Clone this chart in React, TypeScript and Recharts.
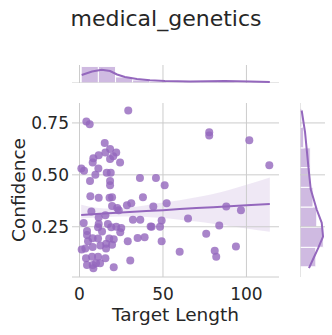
import React from 'react';
import {
  ComposedChart,
  XAxis,
  YAxis,
  Area,
  Line,
  Scatter,
  ReferenceArea,
  ReferenceLine,
} from 'recharts';

const PURPLE = '#9467bd';
const GRID = '#cccccc';
const TEXT = '#262626';
const FONT = "'DejaVu Sans', sans-serif";

const title = 'medical_genetics';
const xLabel = 'Target Length';
const yLabel = 'Confidence';

const xTicks = [0, 50, 100];
const yTicks = [0.25, 0.5, 0.75];
const xDomain: [number, number] = [-4.5, 119.5];
const yDomain: [number, number] = [0.008, 0.846];

// scatter data
const targetLength = [
  29.2, 4.1, 6.1, 15.1, 18.3, 22.0, 15.5, 11.5, 20.2, 8.3, 18.3, 7.9, 24.3, 1.1, 2.7, 11.3, 16.3, 18.7, 9.5, 36.2,
  6.3, 18.3, 18.3, 45.8, 51.0, 6.5, 11.5, 18.0, 19.5, 38.0, 31.0, 19.5, 23.5, 28.4, 7.1, 15.5, 11.5, 32.0, 36.4, 42.6,
  2.5, 11.5, 17.0, 11.1, 19.0, 25.0, 24.4, 4.5, 4.5, 5.1, 3.5, 7.9, 11.1, 12.5, 16.0, 17.8, 19.5, 20.5, 15.9, 28.9,
  34.8, 39.0, 7.5, 3.9, 11.1, 15.5, 4.5, 7.9, 9.9, 20.5, 30.4, 44.2, 52.2, 49.2, 43.2, 48.2, 65.0, 87.9, 96.7, 83.7,
  75.9, 49.2, 60.0, 81.0, 81.9, 93.7, 77.7, 77.7, 101.7, 113.7, 22.6, 1.3, 8.3, 12.3, 13.5, 7.8, 22.0,
];
const confidence = [
  0.81, 0.757, 0.744, 0.653, 0.624, 0.608, 0.608, 0.594, 0.59, 0.58, 0.576, 0.56, 0.56, 0.53, 0.52, 0.53, 0.51, 0.51, 0.5, 0.485,
  0.47, 0.47, 0.45, 0.485, 0.45, 0.397, 0.39, 0.39, 0.392, 0.392, 0.363, 0.35, 0.33, 0.353, 0.324, 0.305, 0.295, 0.284, 0.284, 0.251,
  0.268, 0.263, 0.263, 0.247, 0.247, 0.244, 0.223, 0.23, 0.21, 0.18, 0.145, 0.153, 0.194, 0.16, 0.168, 0.194, 0.163, 0.19, 0.145, 0.18,
  0.196, 0.2, 0.106, 0.098, 0.106, 0.098, 0.066, 0.066, 0.074, 0.055, 0.088, 0.347, 0.363, 0.28, 0.25, 0.25, 0.29, 0.347, 0.33, 0.256,
  0.216, 0.18, 0.13, 0.135, 0.105, 0.155, 0.705, 0.69, 0.666, 0.546, 0.34, 0.14, 0.05, 0.074, 0.227, 0.195, 0.25,
];

// regression line and confidence band
const fitX = [1, 10, 20, 30, 40, 50, 60, 70, 80, 90, 100, 114];
const fitY = [0.307, 0.312, 0.316, 0.321, 0.326, 0.33, 0.335, 0.34, 0.344, 0.349, 0.354, 0.36];
const ciLow = [0.29, 0.295, 0.298, 0.299, 0.297, 0.292, 0.284, 0.275, 0.265, 0.254, 0.242, 0.226];
const ciHigh = [0.356, 0.342, 0.337, 0.343, 0.354, 0.367, 0.378, 0.392, 0.408, 0.428, 0.452, 0.487];

// top marginal histogram (counts) and kde
const xHistEdges = [1, 11.3, 21.6, 31.8, 42, 52.2, 62.4, 72.6, 82.8, 93, 103.2, 113.5];
const xHistCounts = [33, 33, 12, 6, 3, 1, 2, 2, 2, 1, 2];
const xKdeX = [1.3, 7.5, 13.3, 18.3, 22.5, 27.2, 34.4, 42.2, 51.2, 66.2, 87.1, 102.1, 114];
const xKdeY = [15.9, 22.9, 26.4, 23.9, 16.9, 11.9, 8, 5.6, 4, 3.2, 4, 3.2, 2];

// right marginal histogram (counts) and kde
const yHistEdges = [0.057, 0.151, 0.248, 0.345, 0.44, 0.535, 0.63, 0.73, 0.82];
const yHistCounts = [17, 25, 18, 14, 11, 11, 4, 2];
const yKdeY = [0.81, 0.706, 0.543, 0.43, 0.333, 0.269, 0.203, 0.148, 0.09, 0.051];
const yKdeX = [1.8, 5.4, 8.9, 11.5, 17.9, 23.3, 24.7, 19.6, 13.6, 9.6];

const points = targetLength.map((x, i) => ({ x, y: confidence[i] }));
const bandData = fitX.map((x, i) => ({ x, fit: fitY[i], band: [ciLow[i], ciHigh[i]] }));
const topKde = xKdeX.map((x, i) => ({ x, y: xKdeY[i] }));
const rightKde = yKdeY.map((y, i) => ({ x: yKdeX[i], y }));

const Dot = (props: any) => (
  <circle cx={props.cx} cy={props.cy} r={4} fill={PURPLE} fillOpacity={0.8} />
);
const NoDot = () => <g />;

const tickStyle = { fontSize: 17, fill: TEXT, fontFamily: FONT };

export default function App() {
  return (
    <div style={{ position: 'absolute', left: 0, top: 0, width: 332, height: 335, background: '#fff', fontFamily: FONT }}>
      <svg width={332} height={40} style={{ position: 'absolute', left: 0, top: 0 }}>
        <text x={166} y={26} textAnchor="middle" fontSize={22} fill={TEXT} fontFamily={FONT}>
          {title}
        </text>
      </svg>

      {/* top marginal */}
      <div style={{ position: 'absolute', left: 0, top: 65 }}>
        <ComposedChart width={279} height={18} margin={{ top: 0, right: 0, bottom: 0, left: 72 }}>
          <XAxis type="number" dataKey="x" domain={xDomain} hide allowDataOverflow />
          <YAxis type="number" dataKey="y" domain={[0, 35.8]} hide allowDataOverflow />
          {xTicks.map((t) => (
            <ReferenceLine key={'tg' + t} x={t} stroke={GRID} strokeWidth={1} />
          ))}
          {xHistCounts.map((c, i) => (
            <ReferenceArea
              key={'xh' + i}
              x1={xHistEdges[i]}
              x2={xHistEdges[i + 1]}
              y1={0}
              y2={c}
              fill={PURPLE}
              fillOpacity={0.45}
              stroke="#ffffff"
              strokeWidth={1}
            />
          ))}
          <Scatter
            data={topKde}
            line={{ stroke: PURPLE, strokeWidth: 2 }}
            shape={NoDot}
            isAnimationActive={false}
          />
          <ReferenceLine y={0} stroke={GRID} strokeWidth={1} />
        </ComposedChart>
      </div>

      {/* right marginal */}
      <div style={{ position: 'absolute', left: 300, top: 103 }}>
        <ComposedChart width={25} height={174} margin={{ top: 0, right: 0, bottom: 0, left: 0 }}>
          <XAxis type="number" dataKey="x" domain={[0, 26.8]} hide allowDataOverflow />
          <YAxis type="number" dataKey="y" domain={yDomain} hide allowDataOverflow />
          {yTicks.map((t) => (
            <ReferenceLine key={'rg' + t} y={t} stroke={GRID} strokeWidth={1} />
          ))}
          {yHistCounts.map((c, i) => (
            <ReferenceArea
              key={'yh' + i}
              x1={0}
              x2={c}
              y1={yHistEdges[i]}
              y2={yHistEdges[i + 1]}
              fill={PURPLE}
              fillOpacity={0.45}
              stroke="#ffffff"
              strokeWidth={1}
            />
          ))}
          <Scatter
            data={rightKde}
            line={{ stroke: PURPLE, strokeWidth: 2 }}
            shape={NoDot}
            isAnimationActive={false}
          />
          <ReferenceLine x={0} stroke={GRID} strokeWidth={1} />
        </ComposedChart>
      </div>

      {/* main joint plot */}
      <div style={{ position: 'absolute', left: 0, top: 103 }}>
        <ComposedChart width={279} height={232} data={bandData} margin={{ top: 0, right: 0, bottom: 0, left: 0 }}>
          <XAxis
            type="number"
            dataKey="x"
            domain={xDomain}
            ticks={xTicks}
            allowDataOverflow
            height={58}
            tickLine={false}
            tickSize={0}
            tickMargin={11}
            axisLine={{ stroke: GRID, strokeWidth: 1 }}
            tick={tickStyle}
            label={{
              value: xLabel,
              position: 'insideBottom',
              offset: 14,
              fontSize: 18.5,
              fill: TEXT,
              fontFamily: FONT,
            }}
          />
          <YAxis
            type="number"
            dataKey="y"
            domain={yDomain}
            ticks={yTicks}
            allowDataOverflow
            width={72}
            tickLine={false}
            tickSize={0}
            tickMargin={3}
            axisLine={false}
            tick={tickStyle}
            tickFormatter={(v: number) => v.toFixed(2)}
            label={{
              content: (p: any) => {
                const vb = p.viewBox || { x: 0, y: 0, width: 72, height: 174 };
                const cx = vb.x + 25;
                const cy = vb.y + vb.height / 2;
                return (
                  <text
                    x={cx}
                    y={cy}
                    transform={`rotate(-90 ${cx} ${cy})`}
                    textAnchor="middle"
                    fontSize={18.5}
                    fill={TEXT}
                    fontFamily={FONT}
                  >
                    {yLabel}
                  </text>
                );
              },
            }}
          />
          {xTicks.map((t) => (
            <ReferenceLine key={'mgx' + t} x={t} stroke={GRID} strokeWidth={1} />
          ))}
          {yTicks.map((t) => (
            <ReferenceLine key={'mgy' + t} y={t} stroke={GRID} strokeWidth={1} />
          ))}
          <Area
            dataKey="band"
            type="monotone"
            stroke="none"
            fill={PURPLE}
            fillOpacity={0.15}
            isAnimationActive={false}
          />
          <Scatter data={points} shape={Dot} isAnimationActive={false} />
          <Line
            dataKey="fit"
            type="linear"
            stroke={PURPLE}
            strokeWidth={2}
            dot={false}
            isAnimationActive={false}
          />
        </ComposedChart>
      </div>
    </div>
  );
}
